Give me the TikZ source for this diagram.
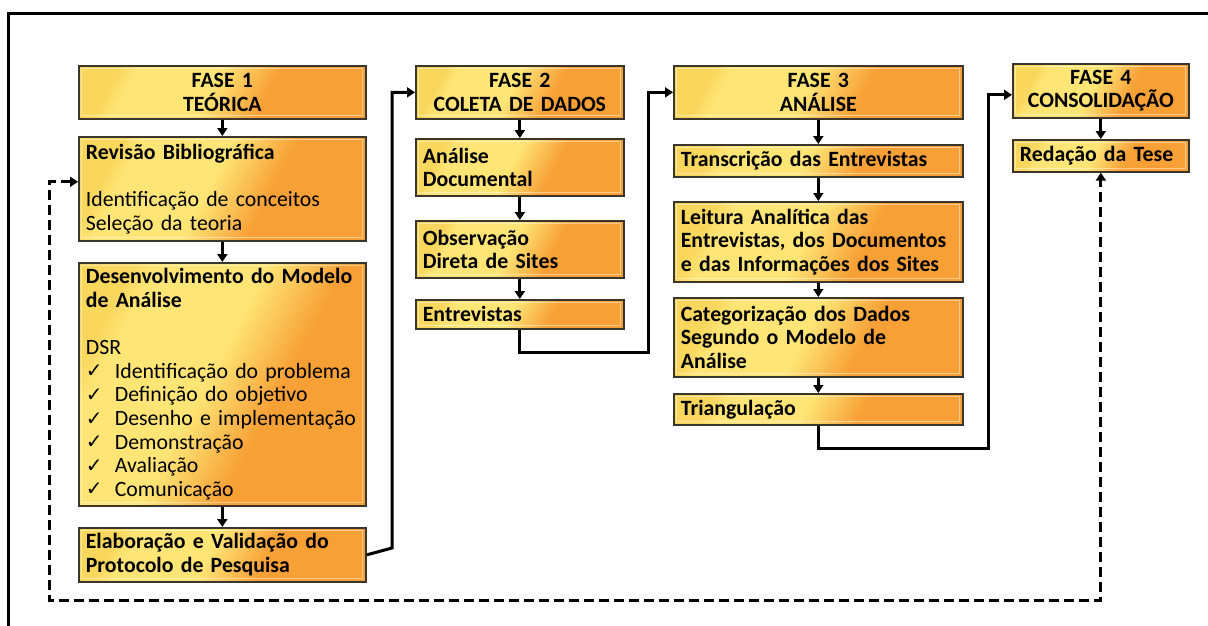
\documentclass[tikz,border=0pt]{standalone}
\usepackage{fontspec}
\setmainfont{Carlito}
\newfontfamily\symfont{DejaVu Sans}
\usetikzlibrary{arrows.meta,shadows}

\definecolor{boxyellow}{RGB}{255,229,118}
\definecolor{boxgold}{RGB}{249,214,92}
\definecolor{boxorange}{RGB}{247,160,54}
\definecolor{boxedge}{RGB}{58,54,46}

% yellow on the left, orange on the right
\pgfdeclarehorizontalshading{phaseshade}{100bp}{%
  color(0bp)=(boxgold); color(25bp)=(boxgold); color(29bp)=(boxyellow);
  color(47bp)=(boxyellow); color(60bp)=(boxorange); color(100bp)=(boxorange)}

\newcommand\ckitem{\makebox[29pt][l]{\raisebox{0.5pt}{\symfont\fontsize{20}{20}\selectfont ✓}}}

\tikzset{
  phasebox/.style={
    draw=boxedge, line width=1.7pt,
    shading=phaseshade, shading angle=-28,
    drop shadow={shadow xshift=1.2pt, shadow yshift=-1.5pt, opacity=0.35},
    anchor=north west, inner xsep=7pt, inner ysep=2pt,
    font=\bfseries\fontsize{21.8}{23.6}\selectfont, align=left,
    path picture={\draw[white, opacity=0.45, line width=0.8pt]
      ([shift={(3pt,-3pt)}]path picture bounding box.north west) rectangle
      ([shift={(-3pt,3pt)}]path picture bounding box.south east);}},
  headbox/.style={phasebox, align=center},
  conn/.style={line width=3pt, -{Triangle[length=8pt,width=10pt]}},
  dashconn/.style={line width=3pt, dash pattern=on 10pt off 5pt,
    {Triangle[length=8pt,width=10pt]}-{Triangle[length=8pt,width=10pt]}},
  frameline/.style={line width=3pt}
}

\begin{document}
\begin{tikzpicture}[x=1pt,y=-1pt]
\useasboundingbox (0,0) rectangle (1208,625);

% outer frame
\draw[frameline] (8,640) -- (8,13) -- (1220,13);

% phase 1
\node[headbox, text width=273pt, minimum height=53pt] (f1) at (78,65) {FASE 1\\TEÓRICA};
\node[phasebox, text width=273pt, minimum height=104pt] (rev) at (78,136)
  {Revisão Bibliográfica\\\mbox{}\\{\mdseries Identificação de conceitos}\\{\mdseries Seleção da teoria}};
\node[phasebox, text width=273pt, minimum height=243pt] (des) at (78,262)
  {Desenvolvimento do Modelo\\de Análise\\\mbox{}\\
   {\mdseries DSR}\\
   {\mdseries\ckitem Identificação do problema}\\
   {\mdseries\ckitem Definição do objetivo}\\
   {\mdseries\ckitem Desenho e implementação}\\
   {\mdseries\ckitem Demonstração}\\
   {\mdseries\ckitem Avaliação}\\
   {\mdseries\ckitem Comunicação}};
\node[phasebox, text width=273pt, minimum height=54pt] (ela) at (78,527)
  {Elaboração e Validação do\\Protocolo de Pesquisa};

% phase 2
\node[headbox, text width=194pt, minimum height=53pt] (f2) at (415,65) {FASE 2\\COLETA DE DADOS};
\node[phasebox, text width=194pt, minimum height=57pt] (ad) at (415,138) {Análise\\Documental};
\node[phasebox, text width=194pt, minimum height=57pt] (obs) at (415,220) {Observação\\Direta de Sites};
\node[phasebox, text width=194pt, minimum height=29pt] (ent) at (415,299) {Entrevistas};

% phase 3
\node[headbox, text width=275pt, minimum height=53pt] (f3) at (673,65) {FASE 3\\ANÁLISE};
\node[phasebox, text width=275pt, minimum height=32pt] (tra) at (673,144) {Transcrição das Entrevistas};
\node[phasebox, text width=275pt, minimum height=80pt] (lei) at (673,201)
  {Leitura Analítica das\\Entrevistas, dos Documentos\\e das Informações dos Sites};
\node[phasebox, text width=275pt, minimum height=79pt] (cat) at (673,297)
  {Categorização dos Dados\\Segundo o Modelo de\\Análise};
\node[phasebox, text width=275pt, minimum height=31pt] (tri) at (673,393) {Triangulação};

% phase 4
\node[headbox, text width=162pt, minimum height=54pt] (f4) at (1012,63) {FASE 4\\CONSOLIDAÇÃO};
\node[phasebox, text width=162pt, minimum height=32pt] (red) at (1012,139) {Redação da Tese};

% links inside each phase
\draw[conn] (f1) -- (rev);
\draw[conn] (rev) -- (des);
\draw[conn] (des) -- (ela);
\draw[conn] (f2) -- (ad);
\draw[conn] (ad) -- (obs);
\draw[conn] (obs) -- (ent);
\draw[conn] (f3) -- (tra);
\draw[conn] (tra) -- (lei);
\draw[conn] (lei) -- (cat);
\draw[conn] (cat) -- (tri);
\draw[conn] (f4) -- (red);

% links between phases
\coordinate (j1) at (392,548);
\coordinate (j2) at (648,352);
\coordinate (j3) at (988,448);
\draw[conn] (ela.east) -- (j1) |- (f2.west);
\draw[conn] (ent.south) |- (j2) |- (f3.west);
\draw[conn] (tri.south) |- (j3) |- ([yshift=-4pt]f4.west);

% feedback loop
\coordinate (loopL) at (49,600);
\draw[dashconn] ([yshift=7pt]rev.west) -| (loopL) -| (red.south);
\end{tikzpicture}
\end{document}
